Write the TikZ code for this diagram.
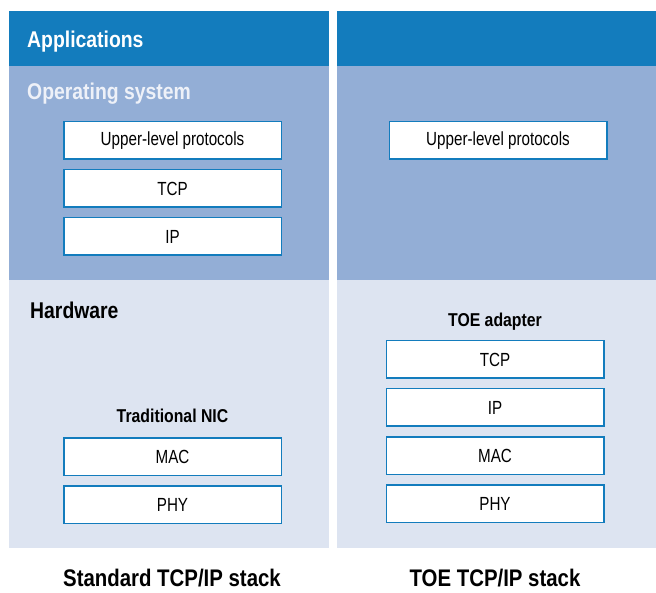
\documentclass[tikz,border=0pt]{standalone}
\usepackage{fontspec}
\setmainfont{Liberation Sans}[FakeStretch=0.85]
\newfontfamily\layerfont{Liberation Sans}[FakeStretch=0.80]
\usepackage{xcolor}
\usetikzlibrary{positioning}

\definecolor{appblue}{HTML}{137CBD}
\definecolor{osblue}{HTML}{93AED6}
\definecolor{hwblue}{HTML}{DDE4F1}
\definecolor{oswhite}{HTML}{EEF1F8}

\begin{document}
\begin{tikzpicture}[x=1pt, y=-1pt, node distance=9pt,
    layerbox/.style={draw=appblue, line width=1.5pt, fill=white,
      minimum width=217.5pt, minimum height=37.5pt, inner sep=0pt,
      font=\layerfont\fontsize{19}{22}\selectfont},
    bandtitle/.style={anchor=west, inner sep=0pt, font=\bfseries\fontsize{22.8}{26}\selectfont},
    cardtitle/.style={inner sep=0pt, font=\bfseries\fontsize{18.6}{22}\selectfont},
    stacktitle/.style={inner sep=0pt, font=\bfseries\fontsize{24}{28}\selectfont}]
                \useasboundingbox (0,0) rectangle (656,593);

                % standard stack bands
                \fill[appblue] (9,11) rectangle (329,66);
                \fill[osblue] (9,66) rectangle (329,280);
                \fill[hwblue] (9,280) rectangle (329,548);

                % TOE stack bands
                \fill[appblue] (337,11) rectangle (656,66);
                \fill[osblue] (337,66) rectangle (656,280);
                \fill[hwblue] (337,280) rectangle (656,548);

                % band names
                \node[bandtitle, text=white] (apps) at (27,41.5) {Applications};
                \node[bandtitle, text=oswhite] (os) at (27,93.5) {Operating system};
                \node[bandtitle, text=black] (hw) at (30,310) {Hardware};

                % layers in the standard stack
                \node[layerbox] (stdupper) at (172.5,140.5) {Upper-level protocols};
                \node[layerbox, below=of stdupper] (stdtcp) {TCP};
                \node[layerbox, below=of stdtcp] (stdip) {IP};
                \node[cardtitle] (nic) at (172.5,415.5) {Traditional NIC};
                \node[layerbox] (stdmac) at (172.5,456.5) {MAC};
                \node[layerbox, below=of stdmac] (stdphy) {PHY};

                % layers in the TOE stack
                \node[layerbox] (toeupper) at (498,140.5) {Upper-level protocols};
                \node[cardtitle] (toe) at (495,321.5) {TOE adapter};
                \node[layerbox] (toetcp) at (495,359.5) {TCP};
                \node[layerbox, below=of toetcp] (toeip) {IP};
                \node[layerbox, below=of toeip] (toemac) {MAC};
                \node[layerbox, below=of toemac] (toephy) {PHY};

                % captions
                \node[stacktitle] (stdcap) at (172,578.5) {Standard TCP/IP stack};
                \node[stacktitle] (toecap) at (495,578.5) {TOE TCP/IP stack};
\end{tikzpicture}
\end{document}
